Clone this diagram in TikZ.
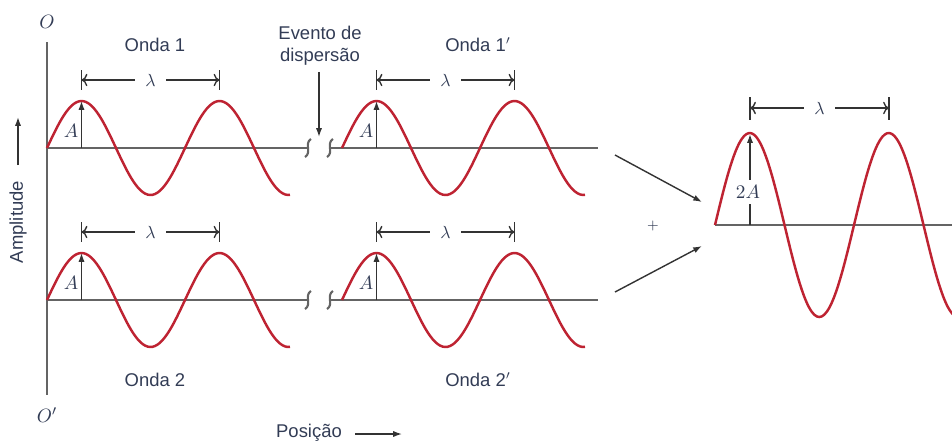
\documentclass[tikz,border=0pt]{standalone}
\usepackage{fontspec}
\setmainfont{Liberation Sans}
\usetikzlibrary{arrows.meta,positioning}

\definecolor{wavered}{RGB}{190,35,50}
\definecolor{axisgray}{RGB}{100,100,100}
\definecolor{labeltext}{RGB}{50,60,85}

\tikzset{
    brk/.pic={\draw[axis] (3,-9) .. controls (-4,-5) and (4,5) .. (-3,9);}
}

\begin{document}
\begin{tikzpicture}[x=0.02cm, y=-0.02cm,
            lbl/.style={text=labeltext, inner sep=0pt, font=\fontsize{10.5}{12.5}\selectfont, align=center},
            sym/.style={text=labeltext, inner sep=1pt, font=\fontsize{11}{13}\selectfont},
            axis/.style={axisgray, line width=1.2pt},
            wave/.style={wavered, line width=1.4pt},
            paths/.style={black!80, line width=0.8pt, -{Latex[length=5pt,width=3.5pt]}},
            dim/.style={black!80, line width=0.8pt}
        ]
            \useasboundingbox (0,0) rectangle (952,441);
            \clip (0,0) rectangle (952,441);

            % Nodes
            \node[sym] (O) at (47,22) {$O$};
            \node[sym] (Op) at (47,415) {$O'$};
            \node[lbl] (onda1) at (155,45) {Onda 1};
            \node[lbl] (onda1p) at (478,45) {Onda 1$'$};
            \node[lbl] (onda2) at (155,380) {Onda 2};
            \node[lbl] (onda2p) at (478,380) {Onda 2$'$};
            \node[lbl] (evento) at (320,46) {Evento de\\dispersão};
            \node[lbl, rotate=90] (ampl) at (18,222) {Amplitude};
            \node[lbl] (posicao) at (309,433) {Posição};
            \node[sym] (plus) at (653,226) {\footnotesize $+$};

            % Axes
            \draw[axis, line width=1.5pt] (47,42) -- (47,395);
            \foreach \sy in {148, 300} {
                \draw[axis] (47,\sy) -- (308,\sy);
                \draw[axis] (330,\sy) -- (598,\sy);
                \pic at (308,\sy) {brk};
                \pic at (330,\sy) {brk};
            }
            \draw[axis] (715,225) -- (952,225);

            % Waves
            \foreach \sx/\sy/\nm in {47/148/a, 342/148/b, 47/300/c, 342/300/d} {
                \draw[wave] plot[domain=0:243, samples=100, smooth] ({\sx+\x}, {\sy-47*sin(\x/138*360)});
                \coordinate (base-\nm) at (\sx+34.5,\sy);
                \coordinate (peak-\nm) at (\sx+34.5,\sy-47);
                \draw[paths] (base-\nm) -- (peak-\nm);
                \node[sym] (A-\nm) at (\sx+24,\sy-17) {$A$};
                % wavelength
                \coordinate (lamL-\nm) at (\sx+34.5,\sy-68);
                \coordinate (lamR-\nm) at (\sx+172.5,\sy-68);
                \draw[dim] (lamL-\nm) ++(0,-10) -- ++(0,20);
                \draw[dim] (lamR-\nm) ++(0,-10) -- ++(0,20);
                \draw[paths, <->] (lamL-\nm) -- (lamR-\nm) node[midway, fill=white, inner xsep=6pt, text=labeltext] {$\lambda$};
            }

            % Combined wave
            \draw[wave] plot[domain=0:240, samples=100, smooth] ({715+\x}, {225-92*sin(\x/139*360)});
            \coordinate (base-s) at (750,225);
            \coordinate (peak-s) at (750,134);
            \draw[paths] (base-s) -- (peak-s);
            \node[sym, fill=white, inner ysep=3pt] (twoA) at (748,192) {$2A$};
            \coordinate (lamL-s) at (750,108);
            \coordinate (lamR-s) at (889,108);
            \draw[dim] (lamL-s) ++(0,-11) -- ++(0,23);
            \draw[dim] (lamR-s) ++(0,-11) -- ++(0,23);
            \draw[paths, <->] (lamL-s) -- (lamR-s) node[midway, fill=white, inner xsep=6pt, text=labeltext] {$\lambda$};

            % Paths: arrows
            \coordinate (ev-end) at (319,137);
            \draw[paths] (evento.south -| ev-end) ++(0,6) -- (ev-end);
            \coordinate (in1-start) at (615,155);
            \coordinate (in1-end) at (702,202);
            \coordinate (in2-start) at (615,292);
            \coordinate (in2-end) at (702,246);
            \draw[paths] (in1-start) -- (in1-end);
            \draw[paths] (in2-start) -- (in2-end);
            \coordinate (amp-start) at (18,165);
            \coordinate (amp-end) at (18,117);
            \draw[paths] (amp-start) -- (amp-end);
            \coordinate (pos-start) at (355,434);
            \coordinate (pos-end) at (402,434);
            \draw[paths] (pos-start) -- (pos-end);
        \end{tikzpicture}
\end{document}
